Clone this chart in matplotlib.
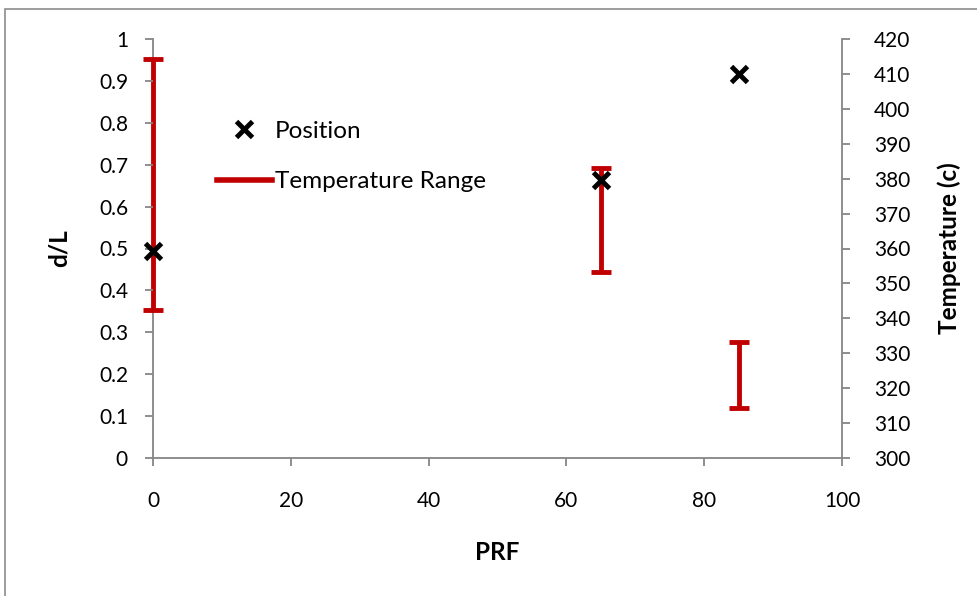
import matplotlib
matplotlib.use("Agg")
import matplotlib.pyplot as plt
from matplotlib.lines import Line2D
from matplotlib.patches import Rectangle
import numpy as np

plt.rcParams['font.family'] = ['Lato', 'DejaVu Sans']

# Data
prf = [0, 65, 85]
position = [0.495, 0.663, 0.916]
temp_low = [342.4, 353.2, 314.2]
temp_high = [414.2, 383.1, 333.1]

x_ticks = [0, 20, 40, 60, 80, 100]
left_ticks = [0, 0.1, 0.2, 0.3, 0.4, 0.5, 0.6, 0.7, 0.8, 0.9, 1]
right_ticks = list(range(300, 421, 10))

red = '#C00000'
gray = '#868686'
fs = 15
lfs = 17.5

fig = plt.figure(figsize=(9.78, 5.96), dpi=100)
fig.patches.append(Rectangle((5/978, -0.1), 1.2, 0.1 + 1 - 9/596, transform=fig.transFigure,
                             fill=False, edgecolor='#8c8c8c', lw=1.2))
ax = fig.add_axes([153/978, 1-458/596, 689/978, 419/596])
ax2 = ax.twinx()

# temperature range bars
low = np.array(temp_low); high = np.array(temp_high)
mid = (low + high) / 2
ax2.errorbar(prf, mid, yerr=(high - low) / 2, fmt='none', ecolor=red,
             elinewidth=3.5, capsize=7, capthick=3.5, clip_on=False, zorder=5)
ax2.set_ylim(300, 420)
ax2.set_yticks(right_ticks)

ax.plot(prf, position, linestyle='none', marker='x', color='black',
        markersize=11, mew=3.5, clip_on=False, zorder=5)
ax.set_xlim(0, 100)
ax.set_ylim(0, 1)
ax.set_xticks(x_ticks)
ax.set_yticks(left_ticks)
ax.set_yticklabels(['0' if v == 0 else ('1' if v == 1 else f'{v:.1f}') for v in left_ticks])

ax.set_zorder(ax2.get_zorder() + 1)
ax.patch.set_visible(False)

for a in (ax, ax2):
    a.spines['top'].set_visible(False)
    for s in ('left', 'right', 'bottom'):
        a.spines[s].set_color(gray)
        a.spines[s].set_linewidth(1.3)
        a.spines[s].set_zorder(0.5)
    a.tick_params(colors=gray, labelcolor='black', labelsize=fs, length=6, width=1.3, direction='out')
ax.spines['right'].set_visible(False)
ax.spines['left'].set_visible(False)
ax2.spines['left'].set_visible(True)
ax2.spines['bottom'].set_visible(False)
ax.tick_params(axis='y', pad=12)
ax.tick_params(axis='x', pad=18)
ax2.tick_params(axis='y', pad=17)

ax.set_xlabel('PRF', fontsize=lfs, fontweight='bold')
ax.set_ylabel('d/L', fontsize=lfs, fontweight='bold')
ax2.set_ylabel('Temperature (c)', fontsize=lfs, fontweight='bold')
ax.xaxis.set_label_coords(0.5, -0.198)
ax.yaxis.set_label_coords(-0.120, 0.5)
ax2.yaxis.set_label_coords(1.138, 0.5)

handles = [Line2D([], [], linestyle='none', marker='x', color='black', markersize=11, mew=3.5),
           Line2D([], [], color=red, lw=4)]
fig.legend(handles, ['Position', 'Temperature Range'], loc='upper left',
           bbox_to_anchor=(195/978, 1-99/596), frameon=False, fontsize=lfs,
           handlelength=2.25, handletextpad=0.15, labelspacing=1.2)

fig.savefig('out.png', dpi=100)
